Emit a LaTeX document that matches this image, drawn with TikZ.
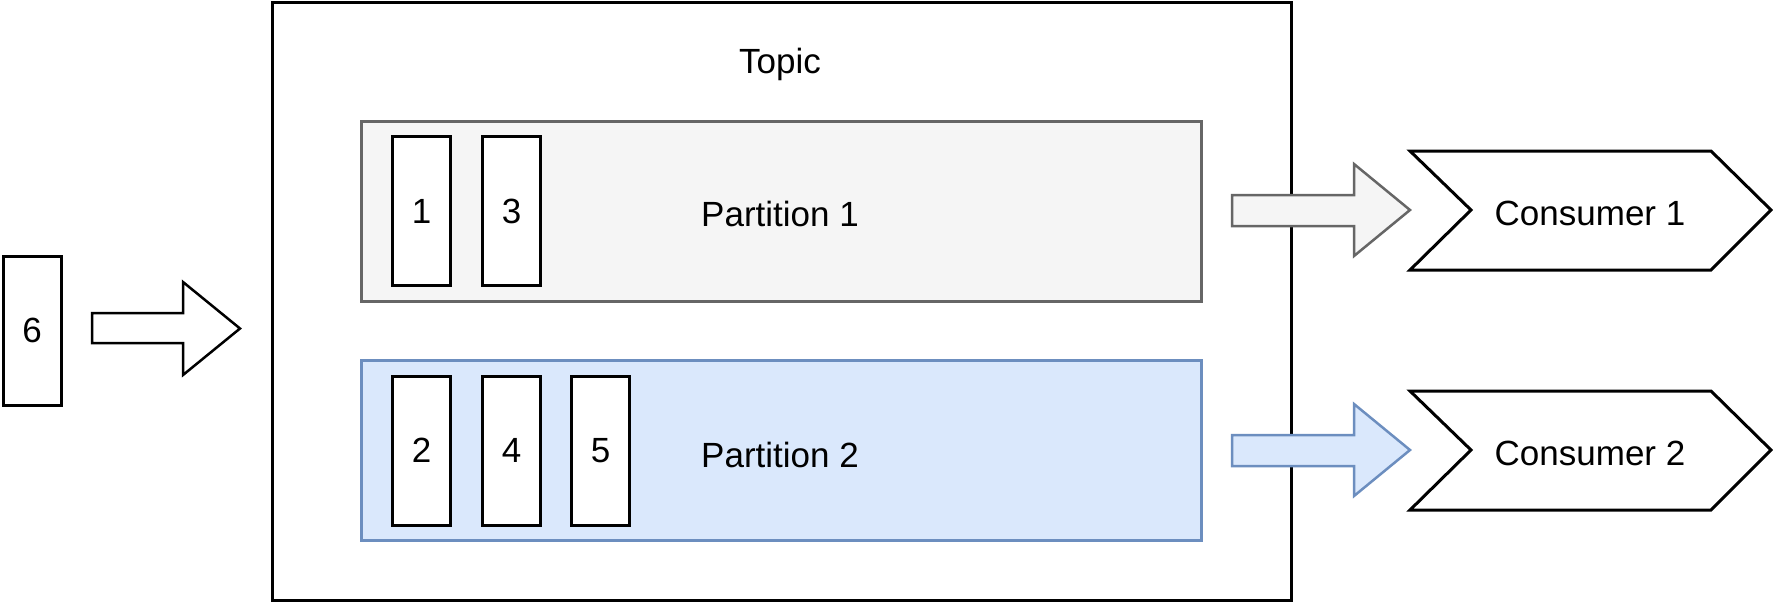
\documentclass[tikz,border=0pt]{standalone}
\usepackage{fontspec}
\setmainfont{Liberation Sans}
\definecolor{grayfill}{HTML}{F5F5F5}
\definecolor{graystroke}{HTML}{666666}
\definecolor{bluefill}{HTML}{DAE8FC}
\definecolor{bluestroke}{HTML}{6C8EBF}
\begin{document}
\begin{tikzpicture}[x=1pt,y=-1pt,
  every node/.style={font=\fontsize{35}{42}\selectfont, inner sep=0pt},
  msg/.style={draw=black, line width=3pt, fill=white, minimum width=58pt, minimum height=149pt},
  part/.style={line width=3pt, minimum width=840pt, minimum height=180pt},
  blockarrow/.style={line width=2.5pt, line join=miter},
  line join=miter]
\useasboundingbox (0,0) rectangle (1773,603);
% Topic
\node[draw=black, line width=3pt, minimum width=1019pt, minimum height=598pt] (topic) at (781.5,301) {};
\node (topiclabel) at (780,64) {Topic};
% Partitions
\node[part, draw=graystroke, fill=grayfill] (p1) at (781,211) {};
\node (p1label) at (780,214) {Partition 1};
\node[part, draw=bluestroke, fill=bluefill] (p2) at (781,450.5) {};
\node (p2label) at (780,455) {Partition 2};
% Messages
\node[msg] (m1) at (421.5,211) {1};
\node[msg] (m3) at (511.5,211) {3};
\node[msg] (m2) at (421.5,450.5) {2};
\node[msg] (m4) at (511.5,450.5) {4};
\node[msg] (m5) at (600.5,450.5) {5};
\node[msg] (m6) at (32,330.5) {6};
% Input arrow
\draw[blockarrow, draw=black, fill=white] (92,313) -- (183,313) -- (183,282) -- (240,328.5) -- (183,375) -- (183,343) -- (92,343) -- cycle;
% Output arrows
\draw[blockarrow, draw=graystroke, fill=grayfill] (1232,195) -- (1354,195) -- (1354,164) -- (1410,210) -- (1354,256) -- (1354,226) -- (1232,226) -- cycle;
\draw[blockarrow, draw=bluestroke, fill=bluefill] (1232,435) -- (1354,435) -- (1354,404) -- (1410,450) -- (1354,496) -- (1354,466) -- (1232,466) -- cycle;
% Consumers
\draw[line width=3pt, fill=white] (1410,151) -- (1711,151) -- (1771,210) -- (1711,270) -- (1410,270) -- (1471,210) -- cycle;
\node (c1) at (1590,213) {Consumer 1};
\draw[line width=3pt, fill=white] (1410,391) -- (1711,391) -- (1771,450) -- (1711,510) -- (1410,510) -- (1471,450) -- cycle;
\node (c2) at (1590,453) {Consumer 2};
\end{tikzpicture}
\end{document}
